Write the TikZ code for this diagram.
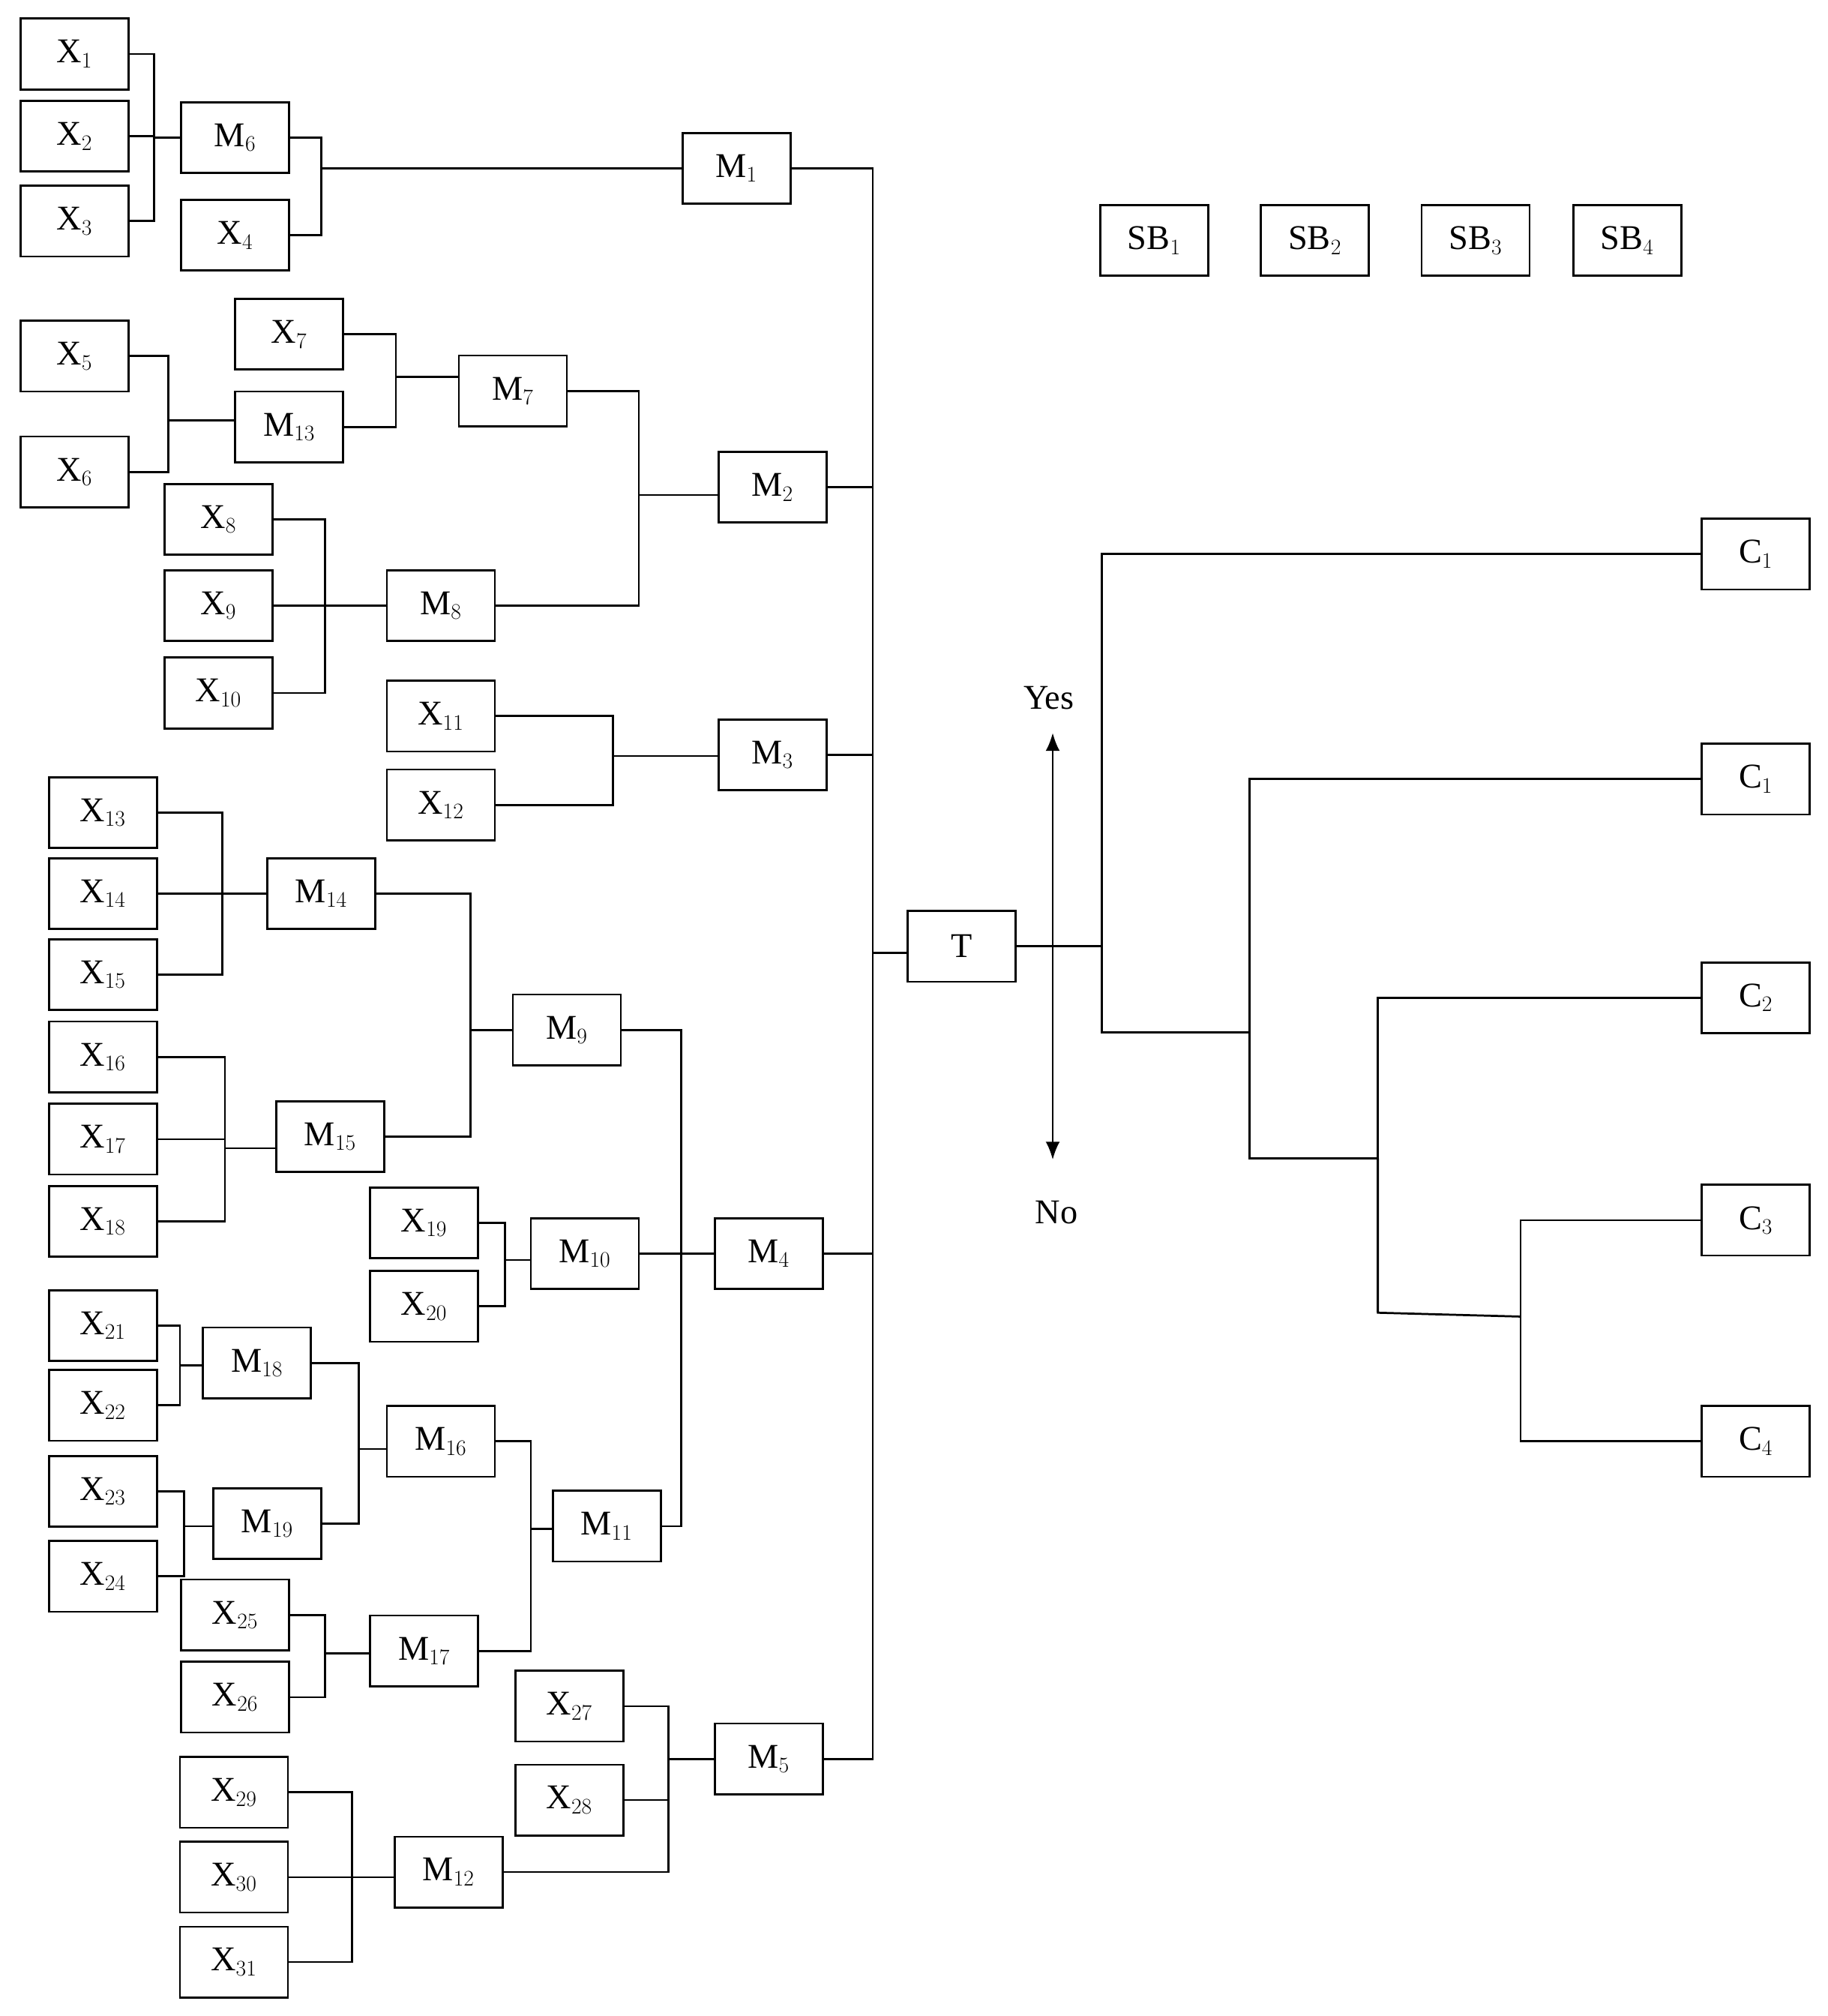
\documentclass[tikz,border=0pt]{standalone}
\usepackage{fontspec}
\setmainfont{Liberation Serif}
\usetikzlibrary{arrows.meta}
\begin{document}
\begin{tikzpicture}[x=1pt,y=-1pt,line width=1.6pt,
  bx/.style={draw,minimum width=84pt,minimum height=55pt,inner sep=0pt,font=\fontsize{27}{30}\selectfont},
  lb/.style={font=\fontsize{27}{30}\selectfont}]
\useasboundingbox (0,0) rectangle (1422,1568);
\newcommand\bx[4]{\node[bx] (#1) at (#2,#3) {#4};}
% boxes
\bx{X1}{58}{42}{X$_1$}\bx{X2}{58}{106}{X$_2$}\bx{X3}{58}{172}{X$_3$}
\bx{M6}{183}{107}{M$_6$}\bx{X4}{183}{183}{X$_4$}\bx{M1}{573}{131}{M$_1$}
\bx{X5}{58}{277}{X$_5$}\bx{X6}{58}{367}{X$_6$}\bx{M13}{225}{332}{M$_{13}$}\bx{X7}{225}{260}{X$_7$}
\bx{M7}{399}{304}{M$_7$}\bx{M8}{343}{471}{M$_8$}
\bx{X8}{170}{404}{X$_8$}\bx{X9}{170}{471}{X$_9$}\bx{X10}{170}{539}{X$_{10}$}
\bx{M2}{601}{379}{M$_2$}
\bx{X11}{343}{557}{X$_{11}$}\bx{X12}{343}{626}{X$_{12}$}\bx{M3}{601}{587}{M$_3$}
\bx{T}{748}{736}{T}
\bx{X13}{80}{632}{X$_{13}$}\bx{X14}{80}{695}{X$_{14}$}\bx{X15}{80}{758}{X$_{15}$}
\bx{M14}{250}{695}{M$_{14}$}
\bx{X16}{80}{822}{X$_{16}$}\bx{X17}{80}{886}{X$_{17}$}\bx{X18}{80}{950}{X$_{18}$}
\bx{M15}{257}{884}{M$_{15}$}\bx{M9}{441}{801}{M$_9$}
\bx{X19}{330}{951}{X$_{19}$}\bx{X20}{330}{1016}{X$_{20}$}\bx{M10}{455}{975}{M$_{10}$}
\bx{M4}{598}{975}{M$_4$}
\bx{X21}{80}{1031}{X$_{21}$}\bx{X22}{80}{1093}{X$_{22}$}\bx{M18}{200}{1060}{M$_{18}$}
\bx{X23}{80}{1160}{X$_{23}$}\bx{X24}{80}{1226}{X$_{24}$}\bx{M19}{208}{1185}{M$_{19}$}
\bx{M16}{343}{1121}{M$_{16}$}
\bx{X25}{183}{1256}{X$_{25}$}\bx{X26}{183}{1320}{X$_{26}$}\bx{M17}{330}{1284}{M$_{17}$}
\bx{M11}{472}{1187}{M$_{11}$}
\bx{X27}{443}{1327}{X$_{27}$}\bx{X28}{443}{1400}{X$_{28}$}
\bx{X29}{182}{1394}{X$_{29}$}\bx{X30}{182}{1460}{X$_{30}$}\bx{X31}{182}{1526}{X$_{31}$}
\bx{M12}{349}{1456}{M$_{12}$}\bx{M5}{598}{1368}{M$_5$}
\bx{SB1}{898}{187}{SB$_1$}\bx{SB2}{1023}{187}{SB$_2$}\bx{SB3}{1148}{187}{SB$_3$}\bx{SB4}{1266}{187}{SB$_4$}
\bx{C1a}{1366}{431}{C$_1$}\bx{C1b}{1366}{606}{C$_1$}\bx{C2}{1366}{776}{C$_2$}
\bx{C3}{1366}{949}{C$_3$}\bx{C4}{1366}{1121}{C$_4$}
% junctions
\coordinate (j1) at (120,107); \coordinate (j2) at (250,131);
\coordinate (j3) at (131,327); \coordinate (j4) at (308,293);
\coordinate (j5) at (253,471); \coordinate (j6) at (497,385);
\coordinate (j7) at (477,588);
\coordinate (tr) at (679,741);
\coordinate (j8) at (173,695); \coordinate (j9) at (175,893);
\coordinate (j10) at (366,801); \coordinate (j11) at (530,975);
\coordinate (j12) at (393,980);
\coordinate (j13) at (140,1062); \coordinate (j14) at (143,1187);
\coordinate (j15) at (279,1127); \coordinate (j16) at (253,1286);
\coordinate (j17) at (413,1189); \coordinate (j18) at (274,1460);
\coordinate (j19) at (520,1368);
\coordinate (r1) at (857,736); \coordinate (r2) at (972,803);
\coordinate (r3) at (1072,901); \coordinate (r4) at (1183,1024);
\coordinate (r3b) at (1072,1021);
% connectors
\foreach \c in {X1,X2,X3} \draw (\c.east) -| (j1); \draw (j1) -- (j1 -| M6.west);
\foreach \c in {M6,X4} \draw (\c.east) -| (j2); \draw (j2) -- (j2 -| M1.west);
\foreach \c in {X5,X6} \draw (\c.east) -| (j3); \draw (j3) -- (j3 -| M13.west);
\foreach \c in {X7,M13} \draw (\c.east) -| (j4); \draw (j4) -- (j4 -| M7.west);
\foreach \c in {X8,X9,X10} \draw (\c.east) -| (j5); \draw (j5) -- (j5 -| M8.west);
\foreach \c in {M7,M8} \draw (\c.east) -| (j6); \draw (j6) -- (j6 -| M2.west);
\foreach \c in {X11,X12} \draw (\c.east) -| (j7); \draw (j7) -- (j7 -| M3.west);
\foreach \c in {M1,M2,M3,M4,M5} \draw (\c.east) -| (tr);
\draw (tr) -- (tr -| T.west);
\foreach \c in {X13,X14,X15} \draw (\c.east) -| (j8); \draw (j8) -- (j8 -| M14.west);
\foreach \c in {X16,X17,X18} \draw (\c.east) -| (j9); \draw (j9) -- (j9 -| M15.west);
\foreach \c in {M14,M15} \draw (\c.east) -| (j10); \draw (j10) -- (j10 -| M9.west);
\foreach \c in {M9,M11} \draw (\c.east) -| (j11); \draw (M10.east) -- (M4.west);
\foreach \c in {X19,X20} \draw (\c.east) -| (j12); \draw (j12) -- (j12 -| M10.west);
\foreach \c in {X21,X22} \draw (\c.east) -| (j13); \draw (j13) -- (j13 -| M18.west);
\foreach \c in {X23,X24} \draw (\c.east) -| (j14); \draw (j14) -- (j14 -| M19.west);
\foreach \c in {M18,M19} \draw (\c.east) -| (j15); \draw (j15) -- (j15 -| M16.west);
\foreach \c in {X25,X26} \draw (\c.east) -| (j16); \draw (j16) -- (j16 -| M17.west);
\foreach \c in {M16,M17} \draw (\c.east) -| (j17); \draw (j17) -- (j17 -| M11.west);
\foreach \c in {X29,X30,X31} \draw (\c.east) -| (j18); \draw (j18) -- (j18 -| M12.west);
\foreach \c in {X27,X28,M12} \draw (\c.east) -| (j19); \draw (j19) -- (j19 -| M5.west);
% right tree
\draw (T.east) -- (r1);
\draw (C1a.west) -| (r1); \draw (r1) |- (r2);
\draw (C1b.west) -| (r2); \draw (r2) |- (r3);
\draw (C2.west) -| (r3b); \draw (r3) -- (r3b) -- (r4);
\draw (C3.west) -| (r4); \draw (C4.west) -| (r4);
% yes/no
\coordinate (ya) at (819,570); \coordinate (na) at (819,902);
\draw[{Latex[length=14pt,width=11pt]}-{Latex[length=14pt,width=11pt]}] (ya) -- (na);
\node[lb] (yes) at (816,543) {Yes};
\node[lb] (no) at (822,943) {No};
\end{tikzpicture}
\end{document}
